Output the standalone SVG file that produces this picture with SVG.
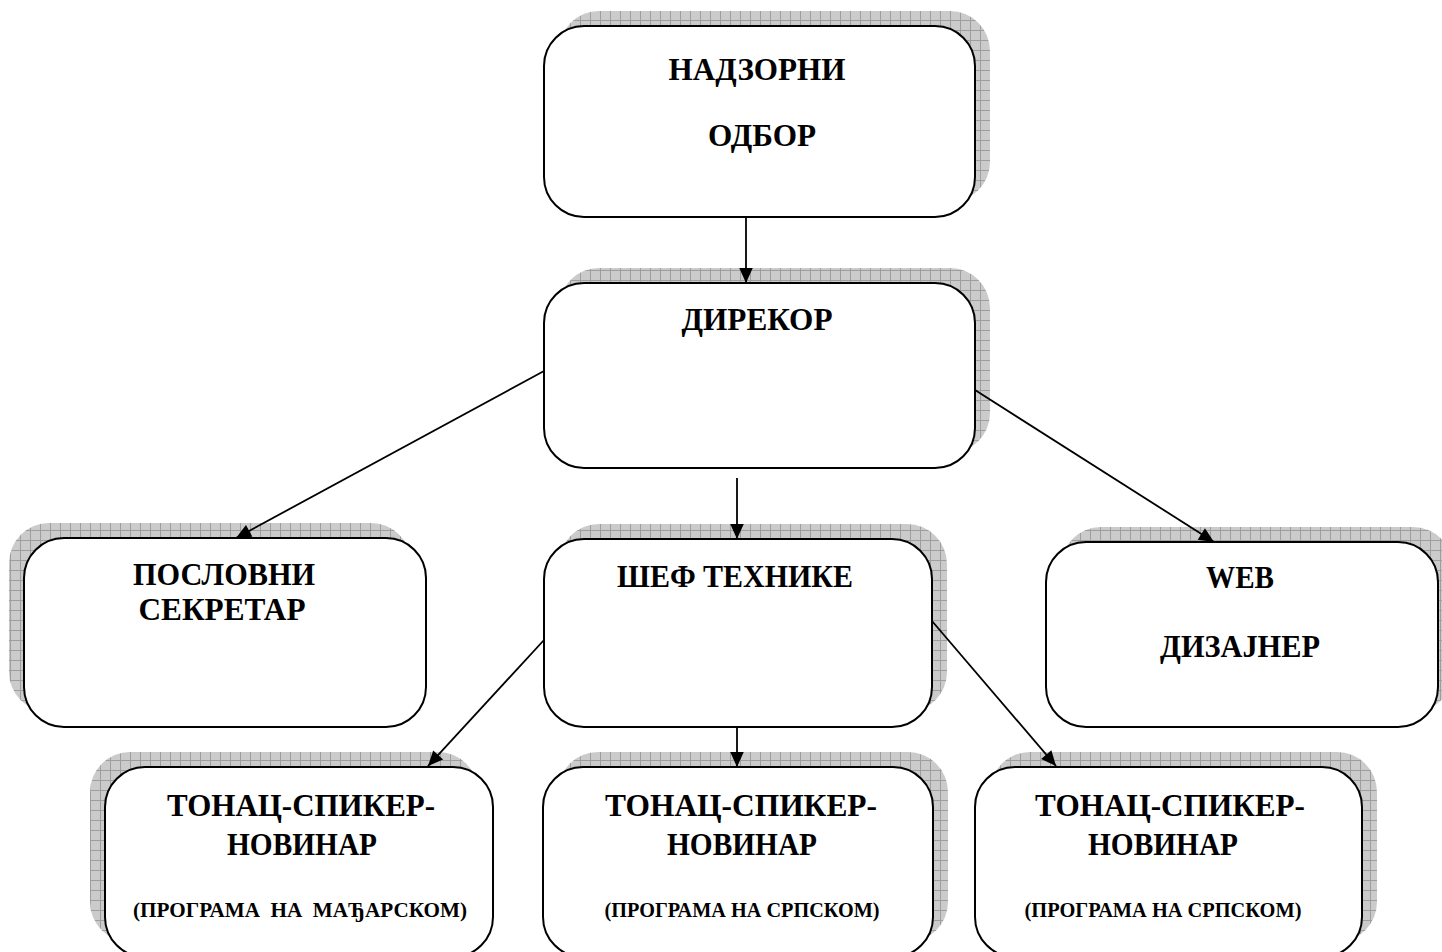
<svg xmlns="http://www.w3.org/2000/svg" width="1442" height="952" viewBox="0 0 1442 952">
<style>
.sh{fill:url(#grid);}
.bx{fill:#fff;stroke:#000;stroke-width:2;}
.t{font-family:"Liberation Serif","Times New Roman",serif;font-weight:bold;font-size:32px;fill:#000;text-anchor:middle;}
.s{font-size:22px;white-space:pre;}
.c{stroke:#000;stroke-width:1.8;fill:none;marker-end:url(#arr);}
</style>
<defs>
<pattern id="grid" width="10" height="10" patternUnits="userSpaceOnUse">
<rect width="10" height="10" fill="#cbcbcb"/>
<path d="M0 0.5H10M0.5 0V10" stroke="#9e9e9e" stroke-width="1"/>
</pattern>
<marker id="arr" viewBox="0 0 10 10" refX="10" refY="5" markerWidth="17" markerHeight="15" markerUnits="userSpaceOnUse" orient="auto">
<path d="M0,0.5 L10,5 L0,9.5 z" fill="#000"/>
</marker>
</defs>
<rect width="1442" height="952" fill="#fff"/>

<g id="nadzorni">
<rect class="sh" x="559" y="11" width="431" height="191" rx="40"/>
<rect class="bx" x="544" y="26" width="431" height="191" rx="40"/>
<text class="t" x="757" y="80" textLength="177" lengthAdjust="spacingAndGlyphs">НАДЗОРНИ</text>
<text class="t" x="762" y="146" textLength="108" lengthAdjust="spacingAndGlyphs">ОДБОР</text>
</g>

<g id="direktor">
<rect class="sh" x="559" y="268" width="431" height="185" rx="40"/>
<rect class="bx" x="544" y="283" width="431" height="185" rx="40"/>
<text class="t" x="757" y="330" textLength="151" lengthAdjust="spacingAndGlyphs">ДИРЕКОР</text>
</g>

<g id="sekretar">
<rect class="sh" x="9" y="523" width="402" height="189" rx="40"/>
<rect class="bx" x="24" y="538" width="402" height="189" rx="40"/>
<text class="t" x="224" y="585" textLength="182" lengthAdjust="spacingAndGlyphs">ПОСЛОВНИ</text>
<text class="t" x="222" y="620" textLength="167" lengthAdjust="spacingAndGlyphs">СЕКРЕТАР</text>
</g>

<g id="sef">
<rect class="sh" x="559" y="524" width="388" height="188" rx="40"/>
<rect class="bx" x="544" y="539" width="388" height="188" rx="40"/>
<text class="t" x="735" y="587" textLength="236" lengthAdjust="spacingAndGlyphs">ШЕФ ТЕХНИКЕ</text>
</g>

<g id="web">
<rect class="sh" x="1061" y="527" width="392" height="185" rx="40"/>
<rect class="bx" x="1046" y="542" width="392" height="185" rx="40"/>
<text class="t" x="1240" y="588" textLength="68" lengthAdjust="spacingAndGlyphs">WEB</text>
<text class="t" x="1240" y="657" textLength="160" lengthAdjust="spacingAndGlyphs">ДИЗАЈНЕР</text>
</g>

<g id="tonac-madjarski">
<rect class="sh" x="90" y="752" width="388" height="190" rx="40"/>
<rect class="bx" x="105" y="767" width="388" height="190" rx="40"/>
<text class="t" x="301" y="816" textLength="268" lengthAdjust="spacingAndGlyphs">ТОНАЦ-СПИКЕР-</text>
<text class="t" x="302" y="855" textLength="150" lengthAdjust="spacingAndGlyphs">НОВИНАР</text>
<text class="t s" x="300" y="917" textLength="334" lengthAdjust="spacingAndGlyphs">(ПРОГРАМА  НА  МАЂАРСКОМ)</text>
</g>

<g id="tonac-srpski-1">
<rect class="sh" x="558" y="752" width="390" height="190" rx="40"/>
<rect class="bx" x="543" y="767" width="390" height="190" rx="40"/>
<text class="t" x="741" y="816" textLength="272" lengthAdjust="spacingAndGlyphs">ТОНАЦ-СПИКЕР-</text>
<text class="t" x="742" y="855" textLength="150" lengthAdjust="spacingAndGlyphs">НОВИНАР</text>
<text class="t s" x="742" y="917" textLength="275" lengthAdjust="spacingAndGlyphs">(ПРОГРАМА НА СРПСКОМ)</text>
</g>

<g id="tonac-srpski-2">
<rect class="sh" x="990" y="752" width="387" height="190" rx="40"/>
<rect class="bx" x="975" y="767" width="387" height="190" rx="40"/>
<text class="t" x="1170" y="816" textLength="270" lengthAdjust="spacingAndGlyphs">ТОНАЦ-СПИКЕР-</text>
<text class="t" x="1163" y="855" textLength="150" lengthAdjust="spacingAndGlyphs">НОВИНАР</text>
<text class="t s" x="1163" y="917" textLength="277" lengthAdjust="spacingAndGlyphs">(ПРОГРАМА НА СРПСКОМ)</text>
</g>

<g id="connectors">
<line class="c" x1="746" y1="217" x2="746" y2="283"/>
<line class="c" x1="544" y1="371" x2="236" y2="538"/>
<line class="c" x1="737" y1="478" x2="737" y2="539"/>
<line class="c" x1="975" y1="390" x2="1214" y2="542"/>
<line class="c" x1="544" y1="640" x2="428" y2="766"/>
<line class="c" x1="737" y1="727" x2="737" y2="767"/>
<line class="c" x1="932" y1="621" x2="1056" y2="766"/>
</g>
</svg>
